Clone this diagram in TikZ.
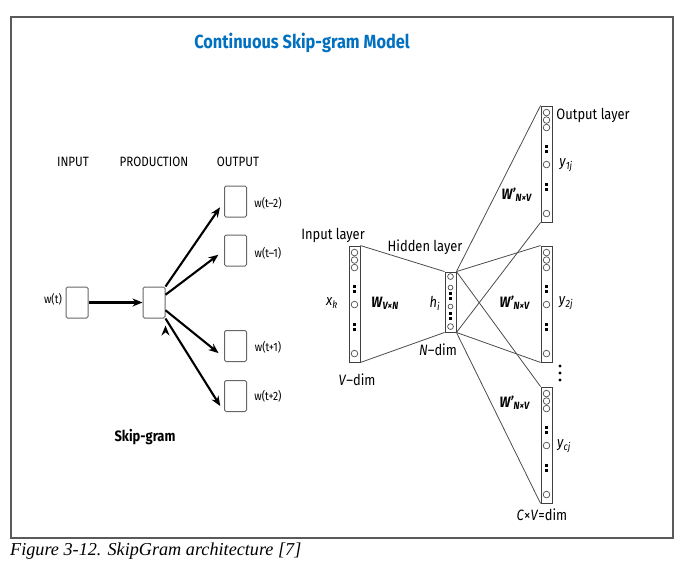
\documentclass[tikz,border=0pt]{standalone}
\usepackage{fontspec}
\setmainfont{Fira Sans}[FakeStretch=0.86]
\newfontfamily\capfont{Liberation Serif}
\usetikzlibrary{arrows.meta}
\definecolor{titleblue}{RGB}{0,112,192}
\definecolor{framegray}{RGB}{90,90,90}
\newcommand{\fsz}[1]{\fontsize{#1}{#1}\selectfont}

\begin{document}
\begin{tikzpicture}[x=1pt,y=-1pt,>={Stealth[length=10pt,width=8pt]},
  word box/.style={draw=black!60,rounded corners=1.5pt,line width=1pt,minimum width=22pt,minimum height=31pt,inner sep=0pt},
  layer col/.style={draw=black!75,line width=0.9pt,minimum width=11pt,inner sep=0pt},
  fan/.style={->,draw=black,line width=2.1pt,shorten >=7pt},
  link/.style={draw=black!70,line width=0.8pt},
  lbl/.style={inner sep=0pt,font=\fsz{15}},
  head/.style={inner sep=0pt,font=\fsz{13.5}},
  wlbl/.style={inner sep=0pt,font=\fsz{12}},
  unit/.style={draw=black!70,line width=0.7pt}]
  \useasboundingbox (0,0) rectangle (682,571);
  \draw[framegray,line width=1.3pt] (11,17) rectangle (673,538);

  \node[inner sep=0pt,font=\fsz{19}\bfseries,text=titleblue] (title) at (302,43) {Continuous Skip-gram Model};

  \node[head] (hin) at (73,162) {INPUT};
  \node[head] (hprod) at (154,162) {PRODUCTION};
  \node[head] (hout) at (238,162) {OUTPUT};

  \node[word box] (wt) at (77,302.5) {};
  \node[word box] (prod) at (154,302.5) {};
  \node[word box] (o1) at (235.5,201.5) {};
  \node[word box] (o2) at (235.5,250.5) {};
  \node[word box] (o3) at (235.5,346) {};
  \node[word box] (o4) at (235.5,396) {};
  \node[wlbl] (lwt) at (53,299) {w(t)};
  \node[wlbl] (lo1) at (268,203) {w(t--2)};
  \node[wlbl] (lo2) at (268,253) {w(t--1)};
  \node[wlbl] (lo3) at (268,347) {w(t+1)};
  \node[wlbl] (lo4) at (268,396) {w(t+2)};
  \node[inner sep=0pt,font=\fsz{15}\bfseries] (sg) at (145,437) {Skip-gram};

\path[fan,shorten >=0pt] (wt) edge (prod);
\path[fan]
  (prod.north east) edge (o1.west)
  (prod.34) edge (o2.west)
  (prod.-34) edge (o3.-135)
  (prod.south east) edge (o4.south west)
;

  \node[layer col,minimum height=116pt] (xin) at (354.5,304) {};
  \node[layer col,minimum height=60pt] (hid) at (450.5,302) {};
  \node[layer col,minimum height=116pt] (y1) at (546.5,164) {};
  \node[layer col,minimum height=116pt] (y2) at (546.5,304) {};
  \node[layer col,minimum height=116pt] (y3) at (546.5,445) {};

  \foreach \c in {xin,y1,y2,y3}{
    \foreach \off in {7,14.5,22,59,108} \draw[unit] ([yshift=-\off pt]\c.north) circle (3.3);
    \foreach \off in {41,46,79,84} \fill ([yshift=-\off pt]\c.north) +(-1.6,-1.6) rectangle +(1.6,1.6);
  }
  \foreach \off/\r in {5/2.9,16/2.4,35/2.4,55/2.9} \draw[unit] ([yshift=-\off pt]hid.north) circle (\r);
  \foreach \off in {22,27,42,47} \fill ([yshift=-\off pt]hid.north) +(-1.5,-1.5) rectangle +(1.5,1.5);

\path[link]
  (xin.north east) edge (hid.north west)
  (xin.south east) edge (hid.south west)
  (hid.north east) edge (y1.north west)
  (hid.south east) edge (y1.south west)
  (hid.north east) edge (y2.north west)
  (hid.south east) edge (y2.south west)
  (hid.north east) edge (y3.north west)
  (hid.south east) edge (y3.south west)
;

  \node[lbl] (lin) at (333,235) {Input layer};
  \node[lbl] (lhid) at (425,247) {Hidden layer};
  \node[lbl] (lout) at (593,115) {Output layer};
  \node[lbl] (xk) at (332,303) {\textit{x}\textsubscript{\textit{k}}};
  \node[lbl] (wvn) at (385,303) {\textbf{\textit{W}\textsubscript{\textit{V×N}}}};
  \node[lbl] (hi) at (435,303) {\textit{h}\textsubscript{\textit{i}}};
  \node[lbl] (vdim) at (357,380) {\textit{V}--dim};
  \node[lbl] (ndim) at (438,350) {\textit{N}--dim};
  \node[lbl] (w1) at (517,195) {\textbf{\textit{W'}\textsubscript{\textit{N×V}}}};
  \node[lbl] (w2) at (515,303) {\textbf{\textit{W'}\textsubscript{\textit{N×V}}}};
  \node[lbl] (w3) at (515,403) {\textbf{\textit{W'}\textsubscript{\textit{N×V}}}};
  \node[lbl] (ly1) at (566,165) {\textit{y}\textsubscript{\textit{1j}}};
  \node[lbl] (ly2) at (566,303) {\textit{y}\textsubscript{\textit{2j}}};
  \node[lbl] (ly3) at (564,446) {\textit{y}\textsubscript{\textit{cj}}};
  \node[lbl] (cv) at (542,515) {\textit{C}×\textit{V}=dim};
  \foreach \yy in {366,373,380} \fill (560,\yy) circle (1.6);

  \node[inner sep=0pt,anchor=west,font=\capfont\itshape\fsz{18.2}] (cap) at (10,551) {Figure 3-12. SkipGram architecture [7]};
\end{tikzpicture}
\end{document}
